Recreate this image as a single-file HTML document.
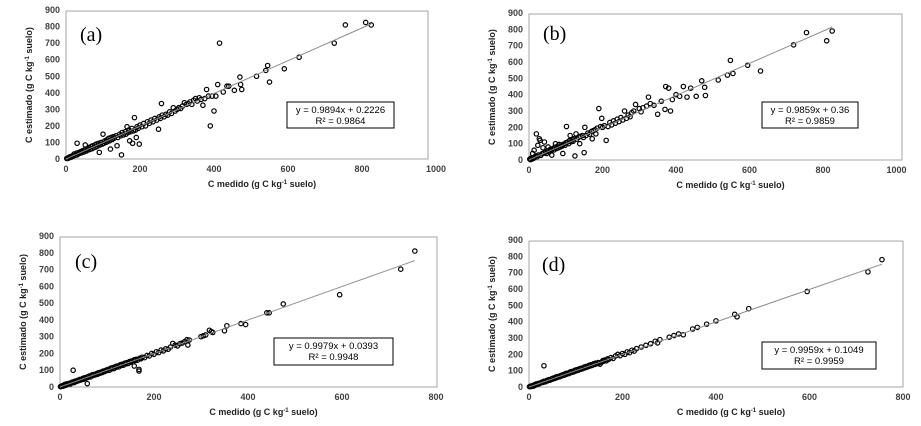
<!DOCTYPE html>
<html><head><meta charset="utf-8"><style>
body{margin:0;background:#fff;}
svg{display:block;font-family:"Liberation Sans",sans-serif;}
</style></head><body>
<svg id="chart" width="921" height="426" viewBox="0 0 921 426"></svg>
<script>
const NS="http://www.w3.org/2000/svg";
// ---- data ----
const panelLabels=["(a)","(b)","(c)","(d)"];
const slopes=[0.9894,0.9859,0.9979,0.9959];
const intercepts=[0.2226,0.36,0.0393,0.1049];
const r2Values=[0.9864,0.9859,0.9948,0.9959];
const eqTexts=["y = 0.9894x + 0.2226","y = 0.9859x + 0.36","y = 0.9979x + 0.0393","y = 0.9959x + 0.1049"];
const r2Texts=["R² = 0.9864","R² = 0.9859","R² = 0.9948","R² = 0.9959"];
const yTicks=[0,100,200,300,400,500,600,700,800,900];
const xTicksAB=[0,200,400,600,800,1000];
const xTicksCD=[0,200,400,600,800];
const pointsA=[[2,3],[5,4],[8,10],[10,8],[12,15],[15,12],[18,20],[20,18],[22,30],[25,22],[28,35],[30,25],[30,95],[33,30],[35,40],[38,35],[40,45],[42,38],[45,50],[48,42],[50,55],[52,85],[55,48],[58,62],[60,55],[62,70],[65,58],[68,75],[70,62],[72,80],[75,68],[78,85],[80,72],[82,90],[85,78],[88,95],[90,40],[92,85],[95,100],[98,90],[100,150],[102,95],[105,110],[108,100],[110,115],[112,105],[115,125],[118,110],[120,60],[122,130],[125,118],[128,135],[130,125],[135,140],[138,80],[140,130],[145,150],[148,140],[150,25],[152,160],[155,145],[160,165],[162,150],[165,195],[168,160],[170,175],[172,110],[175,165],[178,185],[180,95],[182,170],[185,250],[188,175],[190,130],[192,195],[195,185],[198,90],[200,205],[205,195],[210,215],[215,200],[220,225],[225,215],[230,235],[235,225],[240,245],[245,235],[250,180],[252,255],[255,245],[258,335],[260,265],[265,255],[270,270],[275,265],[280,285],[285,275],[290,310],[295,290],[300,300],[305,310],[310,305],[315,320],[320,340],[325,330],[330,335],[335,345],[340,330],[345,355],[350,365],[355,350],[360,370],[365,360],[370,325],[375,365],[380,420],[385,380],[390,200],[395,380],[400,290],[405,380],[410,450],[415,700],[425,405],[435,440],[440,440],[455,415],[470,495],[472,450],[475,420],[515,500],[540,535],[545,565],[550,465],[590,545],[630,615],[725,700],[755,810],[810,825],[825,810]];
const pointsB=[[2,5],[4,2],[6,12],[8,6],[10,40],[12,10],[14,60],[15,15],[18,25],[20,160],[22,20],[24,90],[25,30],[28,130],[30,120],[32,28],[35,38],[38,75],[40,42],[42,110],[45,48],[48,40],[50,55],[52,80],[55,50],[58,65],[60,58],[62,30],[65,70],[68,62],[70,78],[72,100],[75,70],[78,85],[80,75],[82,95],[85,80],[88,92],[90,85],[92,40],[95,98],[98,90],[100,105],[102,205],[105,110],[108,100],[110,118],[112,150],[115,112],[118,125],[120,115],[122,130],[125,25],[128,160],[130,128],[135,140],[138,100],[140,145],[145,150],[148,138],[150,45],[152,200],[155,150],[160,165],[165,158],[170,175],[172,130],[175,180],[180,185],[182,160],[185,195],[190,315],[195,205],[198,255],[200,200],[205,210],[210,120],[215,205],[220,230],[225,215],[230,240],[235,225],[240,250],[245,235],[250,260],[255,245],[260,300],[265,255],[270,275],[275,265],[280,290],[285,300],[290,340],[300,315],[305,295],[310,320],[320,330],[325,385],[330,345],[340,335],[350,280],[360,360],[370,310],[372,450],[380,440],[385,300],[390,370],[400,400],[410,390],[420,450],[430,385],[440,440],[455,390],[470,485],[478,445],[480,395],[515,490],[540,520],[548,610],[555,530],[595,580],[630,545],[720,705],[755,780],[810,730],[825,790]];
const pointsC=[[1,2],[3,4],[5,8],[7,5],[9,12],[10,15],[12,10],[14,18],[15,14],[18,20],[20,22],[22,18],[25,28],[28,30],[28,100],[30,26],[32,35],[35,33],[38,40],[40,38],[42,45],[45,42],[48,50],[50,46],[52,55],[55,52],[58,20],[58,60],[60,58],[62,65],[65,60],[68,72],[70,68],[72,75],[75,72],[78,80],[80,76],[82,85],[85,82],[88,90],[90,86],[92,95],[95,92],[98,100],[100,98],[102,105],[105,100],[108,112],[110,108],[112,115],[115,110],[118,122],[120,118],[122,125],[125,120],[128,132],[130,128],[132,135],[135,130],[138,142],[140,138],[142,145],[145,140],[148,152],[150,148],[152,155],[155,150],[158,125],[158,162],[160,158],[162,165],[165,160],[168,95],[168,105],[170,172],[172,168],[175,178],[180,175],[185,188],[190,185],[195,200],[200,195],[205,210],[210,205],[215,220],[220,215],[225,228],[230,225],[235,238],[240,260],[245,250],[250,245],[255,258],[260,262],[265,270],[270,282],[272,250],[275,280],[300,300],[305,305],[310,310],[318,338],[322,330],[325,325],[350,335],[355,365],[385,378],[395,372],[440,442],[445,442],[475,495],[595,550],[725,702],[755,810]];
const pointsD=[[1,2],[3,5],[5,3],[7,8],[9,10],[10,6],[12,14],[14,12],[15,18],[18,16],[20,22],[22,20],[25,26],[28,30],[30,28],[32,130],[32,35],[35,32],[38,40],[40,38],[42,45],[45,42],[48,50],[50,48],[52,55],[55,52],[58,62],[60,58],[62,65],[65,62],[68,70],[70,68],[72,75],[75,72],[78,82],[80,78],[82,85],[85,82],[88,92],[90,88],[92,95],[95,92],[98,102],[100,98],[102,106],[105,102],[108,112],[110,108],[112,115],[115,112],[118,122],[120,118],[122,125],[125,122],[128,132],[130,128],[132,136],[135,132],[138,142],[140,138],[142,146],[145,142],[148,150],[150,148],[152,140],[155,152],[158,162],[160,158],[162,165],[165,160],[168,172],[170,168],[175,180],[180,175],[185,190],[190,200],[195,192],[200,205],[205,200],[210,215],[215,210],[220,225],[225,220],[230,235],[240,245],[250,255],[260,265],[270,280],[275,270],[280,290],[300,305],[310,315],[320,325],[330,320],[350,355],[360,365],[380,385],[400,405],[440,445],[445,430],[470,480],[595,585],[725,705],[755,780]];
const allPoints=[pointsA,pointsB,pointsC,pointsD];
// ---- layout ----
const layouts=[
 {x0:66,xPer:0.37,xMax:1000,xTicks:xTicksAB,y0:159,yPer:0.1655,boxR:428,box:[287,102,107,26],lab:[80,41]},
 {x0:529,xPer:0.3675,xMax:1000,xTicks:xTicksAB,y0:160,yPer:0.1633,boxR:902,box:[762,102,96,26],lab:[543,40]},
 {x0:60,xPer:0.47,xMax:800,xTicks:xTicksCD,y0:387,yPer:0.1678,boxR:437,box:[274,338,119,27],lab:[75,268]},
 {x0:529,xPer:0.4675,xMax:800,xTicks:xTicksCD,y0:387,yPer:0.1633,boxR:903,box:[762,342,114,27],lab:[542,271]}
];
const svg=document.getElementById('chart');
function mk(tag,attrs,parent){const e=document.createElementNS(NS,tag);for(const k in attrs)e.setAttribute(k,attrs[k]);(parent||svg).appendChild(e);return e;}
layouts.forEach((L,i)=>{
 const g=mk('g',{});
 
 
 const sx=v=>L.x0+v*L.xPer, sy=v=>L.y0-v*L.yPer;
 const top=sy(900)+1;
 const frame=mk('rect',{x:L.x0,y:top,width:L.boxR-L.x0,height:L.y0-top,fill:'none',stroke:'#a6a6a6','stroke-width':1},g);
 
 
 yTicks.forEach(t=>{const tx=mk('text',{x:L.x0-6,y:sy(t)+3,'text-anchor':'end','font-size':9,'font-weight':'bold',fill:'#404040'},g);tx.textContent=t;
  
  });
 L.xTicks.forEach(t=>{const tx=mk('text',{x:sx(t),y:L.y0+13,'text-anchor':'middle','font-size':9,'font-weight':'bold',fill:'#404040'},g);tx.textContent=t;
  
  });
 const xt=mk('text',{x:(L.x0+L.boxR)/2+15,y:L.y0+28,'text-anchor':'middle','font-size':9,'font-weight':'bold',fill:'#222'},g);
 xt.innerHTML='C medido (g C kg<tspan font-size="6" dy="-3">-1</tspan><tspan dy="3"> suelo)</tspan>';
 
 
 const cy=(top+L.y0)/2, cx=L.x0-34;
 const yt=mk('text',{x:cx,y:cy,'text-anchor':'middle','font-size':9,'font-weight':'bold',fill:'#222',transform:`rotate(-90 ${cx} ${cy})`},g);
 yt.innerHTML='C estimado (g C kg<tspan font-size="6" dy="-3">-1</tspan><tspan dy="3"> suelo)</tspan>';
 
 
 const pts=allPoints[i];
 pts.forEach(p=>{const c=mk('circle',{cx:sx(p[0]),cy:sy(p[1]),r:2.2,fill:'none',stroke:'#000','stroke-width':1.2},g);
  
  });
 const xm=Math.max(...pts.map(p=>p[0]));
 const ln=mk('line',{x1:sx(0),y1:sy(intercepts[i]),x2:sx(xm),y2:sy(slopes[i]*xm+intercepts[i]),stroke:'#8c8c8c','stroke-width':1},g);
 
 
 const b=L.box;
 const eb=mk('rect',{x:b[0],y:b[1],width:b[2],height:b[3],fill:'#fff',stroke:'#000','stroke-width':1},g);
 
 
 const e1=mk('text',{x:b[0]+b[2]/2,y:b[1]+11,'text-anchor':'middle','font-size':9.5,fill:'#000'},g);e1.textContent=eqTexts[i];
 
 
 const e2=mk('text',{x:b[0]+b[2]/2,y:b[1]+22,'text-anchor':'middle','font-size':9.5,fill:'#000'},g);e2.textContent=r2Texts[i];
 
 
 const pl=mk('text',{x:L.lab[0],y:L.lab[1],'font-size':20,'font-family':'"Liberation Serif",serif',fill:'#000'},g);pl.textContent=panelLabels[i];
 
 
});
</script>
</body></html>
